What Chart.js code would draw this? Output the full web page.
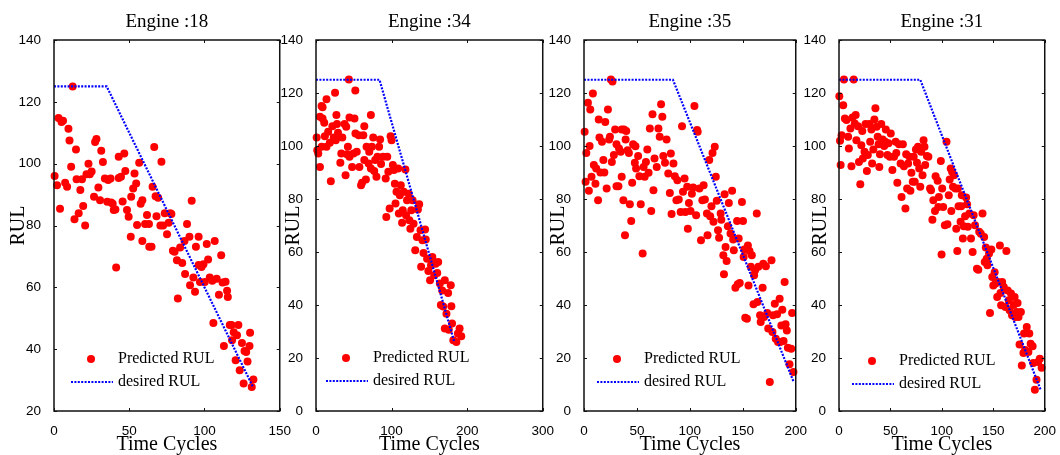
<!DOCTYPE html>
<html>
<head>
<meta charset="utf-8">
<script src="https://cdn.jsdelivr.net/npm/chart.js@4.4.1/dist/chart.umd.min.js"></script>
<style>
  body { margin: 0; width: 1060px; height: 455px; overflow: hidden; background: #fff; position: relative; }
  canvas { position: absolute; top: 0; }
</style>
</head>
<body>
<canvas id="c1" width="295" height="455" style="left:0px"></canvas>
<canvas id="c2" width="296" height="455" style="left:262px"></canvas>
<canvas id="c3" width="281" height="455" style="left:530px"></canvas>
<canvas id="c4" width="275" height="455" style="left:785px"></canvas>
<script>
// Engine 18
const e18Cycles = [0.4, 2, 3, 4, 5, 6, 7.4, 8.7, 9.6, 10.3, 11.4, 12.4, 13.6, 14.6, 15, 16.4, 17.5, 18.6, 19.4, 20.7,
  21.6, 22.9, 23.8, 25, 26.6, 27.3, 28.2, 29.5, 30.6, 31.4, 32.5, 33.8, 35.4, 36, 37.6, 38, 39, 39.7, 40.8, 41.3,
  43, 43, 44.5, 45.6, 46.7, 47.4, 48.5, 49.6, 51, 51.3, 52.6, 53.5, 54.6, 55.2, 56.6, 57.6, 58.7, 58.7, 60.5, 61.8,
  63.1, 63.3, 64.8, 65.5, 66.6, 67.5, 68.1, 69.2, 70.7, 71.4, 72.5, 73.6, 75.1, 76.2, 77.3, 78, 79, 80.1, 81.7, 82.3,
  83.8, 85.2, 86.7, 87.1, 88.4, 90, 90.4, 91.5, 92.6, 93.7, 94.3, 96.1, 96.1, 97, 98, 99.3, 100.2, 101.5, 102.4, 103.5,
  105.2, 105.9, 106.8, 108.1, 109.6, 111.1, 112, 112.9, 114, 115, 115.5, 116.8, 118, 118.3, 119.4, 120.7, 121.6, 122.5, 123.4, 124.9,
  126, 126.6, 127.7, 128.6, 129.9, 130.3, 131.4, 132.5];
const e18Pred = [96, 93, 114.8, 85.4, 113.5, 113.9, 93.8, 92.5, 111.3, 107.5, 99, 125, 82, 104.6, 95, 84, 91.5, 95, 86.3, 80,
  96.6, 100, 96.6, 97.5, 89.3, 107, 108, 92.3, 88.2, 104.2, 100.5, 95.2, 87.7, 94.7, 95.2, 87.4, 87, 85, 85.2, 66.4,
  102.2, 95.4, 95.8, 87.8, 103.3, 97.6, 85, 82.8, 76.4, 89.3, 92, 96.8, 93.6, 80.2, 100.3, 87, 88.2, 75, 80.5, 83.4,
  80.5, 73.1, 73.1, 92.5, 105.4, 89.5, 83, 89, 80, 100.6, 80, 84, 77.2, 80.9, 84, 83.7, 71.8, 71.5, 68.8, 56.4,
  72.9, 67.9, 75, 64.3, 80.5, 76.4, 60.7, 88, 63.2, 58.6, 73.1, 76.4, 67.2, 61.7, 66.6, 67.5, 61.7, 74, 69, 63.2,
  62.1, 48.5, 75, 62.8, 57.6, 70.4, 61.6, 41, 61.8, 58.9, 56.9, 47.8, 47.8, 42.9, 45.5, 36.4, 44.5, 47.8, 33.2, 42,
  28.9, 39.4, 39.1, 36, 41, 45.3, 27.8, 30.2];
const e18DesiredCycles = [0, 35, 132];
const e18DesiredRul = [125, 125, 28];

// Engine 34
const e34Cycles = [43.5, 52, 25.2, 13.9, 7.4, 8.7, 5.2, 8.7, 10.9, 27, 27.8, 37.8, 40, 44.3, 50.9, 63.9, 72.6, 0.9, 1.7, 3,
  5.2, 7.4, 11.7, 16.1, 13.9, 18.3, 21.7, 19.6, 23.5, 26.1, 29.1, 30.3, 33.5, 32.2, 34.8, 39.1, 40.9, 42.2, 44.3, 47.8,
  49.6, 52.2, 53.9, 56.5, 57.4, 59.6, 60.9, 62.6, 63.9, 66, 66.9, 69.6, 70.4, 72.6, 73.9, 75.7, 77, 78.3, 80, 81.3,
  83.5, 84.8, 86.1, 88.7, 92.2, 93, 94.3, 95.7, 97.4, 98.7, 100, 101.7, 103, 104.3, 105.2, 106.5, 108.7, 109.6, 110.9, 112.2,
  113.9, 114.8, 116.1, 118.3, 119.1, 120.4, 122.6, 123.5, 124.8, 126.1, 127.8, 129.1, 131.3, 133.5, 134.8, 136.5, 138.3, 139.1, 140.9, 142.2,
  144.3, 145.2, 147, 148.7, 150.9, 152.2, 153.9, 156.5, 158.3, 160.4, 161.7, 163.9, 165.2, 167, 168.3, 170.4, 170.4, 172.6, 174.8, 175.7,
  178.3, 179.1, 180, 181.7, 185.7, 187.8, 190, 192.2];
const e34Pred = [125.1, 120.9, 120.1, 117.6, 115.1, 114.6, 111, 110.4, 108.8, 111.7, 108.3, 108.3, 107.3, 110.8, 110.4, 107.5, 111.7, 103.2, 98.4, 97.2,
  92.1, 99.7, 103.7, 105.4, 99.7, 101.2, 107.5, 86.7, 103.2, 102.2, 105, 103.5, 97.2, 93.7, 103.2, 89, 96.9, 99.7, 95.9, 92.1,
  97.2, 104.7, 97.8, 104.1, 92.1, 85.2, 86.1, 104.1, 94.7, 87.4, 99.7, 93.4, 97.8, 91.5, 99.7, 103.2, 90.6, 94.7, 88.4, 95.9,
  99.7, 102.5, 93.2, 95.9, 87.7, 73.2, 95.9, 90.3, 76.4, 103.7, 102.2, 92.8, 90.9, 85.8, 78.3, 82.7, 91.5, 74.5, 81.4, 85.2,
  71, 75.8, 82.7, 91.1, 73.9, 79.5, 82, 72, 68.8, 75.8, 79.5, 70.7, 60.7, 65.7, 76, 78, 68.2, 54.4, 64.4, 59.6,
  68.5, 64.7, 57.5, 52.8, 49.3, 55, 58.1, 51.2, 55.6, 52.1, 56.2, 48.1, 40, 45.5, 39.4, 49.3, 31.1, 36.7, 44.5, 30.7,
  47.5, 39.5, 33, 26.7, 26, 29.2, 31.1, 28.2];
const e34DesiredCycles = [0, 84, 183];
const e34DesiredRul = [125, 125, 26];

// Engine 35
const e35Cycles = [0.6, 1.5, 2.2, 3.7, 4.6, 5.9, 5.3, 7.1, 8.4, 9.3, 10.8, 11.5, 13.3, 13.9, 14.6, 15.5, 17, 18.3, 19.2, 20.1,
  21.4, 22.6, 23.8, 24.5, 25.4, 26.9, 26.3, 28.2, 29.4, 30.7, 30.7, 32.5, 33.1, 34.7, 35.6, 35.6, 37.2, 37.8, 38.7, 39.3,
  39.9, 41.2, 42.4, 43.3, 44.6, 45.5, 46.4, 48, 48.6, 49.2, 51.1, 52.3, 53.6, 55.4, 56.3, 57.3, 58.5, 59.8, 61, 62.2,
  63.5, 64.7, 65.6, 66.6, 68.7, 70.3, 71.5, 72.8, 74, 74.9, 76.5, 78, 79.6, 81.1, 82, 82.7, 84.5, 85.8, 87.3, 88.2,
  89.5, 91.3, 92.6, 93.5, 95, 95.7, 97.5, 98.1, 99.1, 100.6, 101.9, 103.1, 104.3, 105.9, 106.8, 107.4, 109, 110.5, 111.8, 113,
  114.2, 116.1, 116.7, 118.3, 119.2, 120.4, 121.4, 122.3, 123.5, 124.5, 125.4, 126.6, 127.6, 129.1, 129.7, 131.6, 132.2, 132.8, 133.7, 134.7,
  135.9, 136.8, 138.4, 139.9, 140.9, 141.5, 143, 144.6, 145.2, 146.1, 147.1, 149.2, 150.2, 150.8, 151.4, 152.3, 153.9, 154.8, 155.4, 156.3,
  157.6, 158.5, 160.1, 160.7, 161.6, 163.2, 163.8, 164.7, 166.3, 166.9, 168.7, 169.3, 170, 171.8, 173.1, 174, 175.5, 177.1, 178, 178.6,
  180.2, 181.1, 182.4, 183.3, 184.8, 185.4, 186.4, 187.3, 188.5, 189.5, 190.4, 191.6, 192.6, 194.1, 195.7, 196.6, 197.8];
const e35Pred = [105.4, 86.5, 97.4, 116.3, 83.1, 113.8, 100, 88.4, 119.8, 92.8, 85.8, 91.5, 79.5, 110, 103.2, 90, 101.6, 94.7, 90, 109.1,
  84, 113.8, 102.5, 103.5, 125.1, 124.3, 94, 96.6, 106.2, 100.7, 84.8, 84.8, 99.1, 97.8, 106.2, 88.4, 79.5, 106.2, 66.3, 102.5,
  105.7, 98.4, 97.4, 78, 71.7, 86.1, 100.7, 93.7, 99.9, 91.5, 96.2, 88.6, 78, 59.4, 92.1, 88.4, 94, 98.7, 89.9, 106.6,
  75.5, 112, 83.3, 95.3, 92.1, 106.6, 103.5, 115.8, 111, 96.2, 93.7, 102.5, 89.6, 82.3, 97.2, 74.3, 93.4, 88.6, 79.5, 87.1,
  79.8, 75.1, 107.5, 82.7, 87.7, 75.1, 84.6, 68.8, 78.5, 75.5, 82, 84.3, 115.1, 73.9, 106, 105.4, 84, 64.4, 79.5, 85.2,
  79.8, 74.5, 66.3, 94.7, 73.5, 77.3, 97.4, 71.4, 99.7, 88.4, 79.3, 68.2, 65.4, 74.5, 72.2, 58.8, 51.6, 81.8, 61.9, 56.6,
  69.7, 78.5, 67, 83.1, 64.7, 60.7, 46.5, 71.7, 47.8, 65.1, 48.3, 78.9, 71.7, 58.1, 60.9, 35.2, 34.8, 62.5, 47.4, 60.4,
  54.4, 58.8, 40.3, 51.2, 53.1, 74.5, 41.1, 54.4, 36.1, 33.6, 46.5, 55.6, 35.5, 54.6, 37, 31.1, 10.9, 56.9, 29.8, 36.1,
  40.5, 27.3, 36.5, 26, 42.4, 26, 32.3, 38.2, 26.4, 48.7, 32.7, 30.4, 23.9, 17.6, 23.5, 37, 14.7];
const e35DesiredCycles = [0, 84, 198];
const e35DesiredRul = [125, 125, 11];

// Engine 31
const e31Cycles = [0.3, 1, 1.6, 2.5, 4.8, 4.1, 5.7, 7.3, 8.9, 9.6, 11.1, 12.1, 13.1, 14.3, 15.3, 16.2, 16.9, 18.5, 19.4, 20.7,
  21.7, 22.6, 23.2, 24.8, 25.8, 27.1, 28, 29.6, 30.3, 31.5, 32.2, 33.4, 34.4, 35.4, 36.6, 37.6, 38.5, 39.2, 39.8, 41.1,
  42.4, 43.9, 44.9, 45.5, 47.1, 48.1, 49.4, 50.3, 51.9, 53.5, 55.1, 55.7, 56.7, 58.3, 59.9, 60.8, 62.1, 63.1, 64.6, 65.3,
  66.2, 67.2, 68.5, 69.4, 70.4, 71.7, 72.6, 73.6, 74.8, 75.8, 76.8, 78, 79, 79.9, 81.2, 82.2, 83.1, 83.8, 85.4, 86.9,
  88.5, 89.5, 90.8, 91.7, 93.3, 93.9, 95.9, 96.5, 97.1, 99, 99.7, 100.3, 101.3, 102.9, 104.5, 105.4, 106.7, 107.6, 108.6, 109.2,
  109.9, 110.8, 111.8, 113.1, 114, 115, 115.6, 116.2, 118.2, 118.8, 119.4, 120.4, 121.3, 122.6, 123.6, 124.5, 125.2, 126.8, 128.3, 129.9,
  130.9, 132.2, 134.1, 135.4, 136.3, 137.9, 139.5, 141.1, 141.7, 142.7, 143.6, 144.3, 145.9, 146.8, 148.1, 149, 150, 151.3, 152.2, 153.8,
  154.5, 156.4, 157, 157.6, 158.6, 160.2, 161.8, 162.7, 164, 165, 165.9, 167.2, 168.2, 169.7, 170.7, 171.3, 172.9, 173.6, 174.5, 175.5,
  176.8, 177.7, 179.3, 179.9, 180.9, 182.5, 184.1, 185, 186.3, 188.2, 188.9, 190.4, 192, 193.6, 195.2, 197];
const e31Pred = [118.8, 102, 92.8, 104.1, 125.1, 115.4, 110.4, 109.8, 103.5, 99.1, 106.6, 92.4, 110.8, 125.1, 108.5, 111.7, 102.2, 107.5, 94, 85.6,
  100.3, 105.7, 95.3, 97.8, 108.3, 90.6, 96.6, 108.3, 101.6, 106.2, 93.4, 98.7, 110, 114.2, 107.3, 103.5, 100.7, 92.1, 96.9, 108.3,
  102.5, 100, 101.6, 106.2, 96.6, 101, 95.9, 104.7, 90.9, 95.9, 101.6, 97.4, 86.1, 100.7, 93.4, 80.8, 100.7, 92.4, 76.4, 96.9,
  84, 93.4, 95.9, 83.1, 89.9, 86.5, 95.9, 86.5, 98.7, 93.7, 99.7, 91.5, 84.6, 97.8, 89, 102.2, 99.7, 92.8, 96.2, 95.9,
  84, 83.3, 72.2, 79.5, 75.5, 88.6, 86.9, 77, 80.8, 94.3, 59.1, 84, 77, 70.1, 101.6, 70.5, 81.4, 87.4, 91.5, 75.5,
  90.3, 84.6, 89, 84, 68.8, 60.4, 84, 77.3, 71.4, 77.3, 81.4, 65.1, 69.7, 73.5, 80.6, 78, 69.5, 74.5, 65.1, 60,
  73.9, 70.1, 53.7, 53.3, 67.6, 66.9, 74.5, 65.7, 56.2, 61.7, 57.5, 55, 59.4, 37, 60.9, 50.6, 47.4, 52.4, 48.1, 43,
  48.7, 62.5, 44.5, 39.9, 48.7, 46.8, 39.2, 60.4, 45.5, 41.8, 38, 44.3, 36.1, 40, 43, 35.5, 37.4, 40.8, 35.5, 25.1,
  37.4, 17.2, 21.9, 29.2, 23, 31.7, 22.3, 29.2, 25.4, 24.4, 18.1, 8, 11.8, 18.5, 19.7, 16.3];
const e31DesiredCycles = [0, 79, 196];
const e31DesiredRul = [125, 125, 8];

const serif = '"Liberation Serif", "Times New Roman", serif';
const sans = '"Liberation Sans", Arial, sans-serif';
Chart.defaults.color = '#000';

function points(xs, ys) {
  return xs.map((x, i) => ({ x: x, y: ys[i] }));
}

// Matlab-like frame: closed box, inward ticks, legend inside the axes
const matlabBox = {
  id: 'matlabBox',
  afterDraw(chart, args, opts) {
    const { ctx, chartArea: a, scales: { x, y } } = chart;
    ctx.save();
    ctx.strokeStyle = '#111';
    ctx.lineWidth = 1.5;
    ctx.strokeRect(a.left, a.top, a.right - a.left, a.bottom - a.top);
    ctx.lineWidth = 1;
    ctx.beginPath();
    x.ticks.forEach(t => {
      const px = Math.round(x.getPixelForValue(t.value)) + 0.5;
      ctx.moveTo(px, a.bottom); ctx.lineTo(px, a.bottom - 3);
      ctx.moveTo(px, a.top); ctx.lineTo(px, a.top + 3);
    });
    y.ticks.forEach(t => {
      const py = Math.round(y.getPixelForValue(t.value)) + 0.5;
      ctx.moveTo(a.left, py); ctx.lineTo(a.left + 3, py);
      ctx.moveTo(a.right, py); ctx.lineTo(a.right - 3, py);
    });
    ctx.stroke();

    // legend
    const ds = chart.data.datasets;
    const lx = a.left + opts.lx;
    const y1 = a.bottom - opts.ly;
    const y2 = y1 + 23;
    ctx.fillStyle = '#ff0000';
    ctx.beginPath();
    ctx.arc(lx + 20, y1, 4, 0, Math.PI * 2);
    ctx.fill();
    ctx.strokeStyle = '#0000ff';
    ctx.lineWidth = 2.2;
    ctx.setLineDash([2, 1.4]);
    ctx.beginPath();
    ctx.moveTo(lx, y2); ctx.lineTo(lx + 42, y2);
    ctx.stroke();
    ctx.setLineDash([]);
    ctx.fillStyle = '#000';
    ctx.font = '16px ' + serif;
    ctx.textBaseline = 'middle';
    ctx.fillText(ds[1].label, lx + 47, y1);
    ctx.fillText(ds[0].label, lx + 47, y2);
    ctx.restore();
  }
};

const panels = [
  { canvas: 'c1', name: 'Engine :18', cycles: e18Cycles, pred: e18Pred, dCycles: e18DesiredCycles, dRul: e18DesiredRul,
    xMax: 150, xStep: 50, yMin: 20, titlePad: 9, lx: 17, ly: 52 },
  { canvas: 'c2', name: 'Engine :34', cycles: e34Cycles, pred: e34Pred, dCycles: e34DesiredCycles, dRul: e34DesiredRul,
    xMax: 300, xStep: 100, yMin: 0, titlePad: 22, lx: 10, ly: 53 },
  { canvas: 'c3', name: 'Engine :35', cycles: e35Cycles, pred: e35Pred, dCycles: e35DesiredCycles, dRul: e35DesiredRul,
    xMax: 200, xStep: 50, yMin: 0, titlePad: 19, lx: 13, ly: 52 },
  { canvas: 'c4', name: 'Engine :31', cycles: e31Cycles, pred: e31Pred, dCycles: e31DesiredCycles, dRul: e31DesiredRul,
    xMax: 200, xStep: 50, yMin: 0, titlePad: 26, lx: 13, ly: 50 }
];

panels.forEach(p => {
  new Chart(document.getElementById(p.canvas), {
    type: 'scatter',
    data: {
      datasets: [
        {
          type: 'line',
          label: 'desired RUL',
          data: points(p.dCycles, p.dRul),
          borderColor: '#0000ff',
          borderWidth: 2.2,
          borderDash: [2, 1.4],
          pointRadius: 0,
          fill: false,
          tension: 0,
          clip: false,
          order: 0
        },
        {
          label: 'Predicted RUL',
          data: points(p.cycles, p.pred),
          backgroundColor: '#ff0000',
          borderColor: '#ff0000',
          borderWidth: 0,
          pointRadius: 4,
          pointHoverRadius: 4,
          clip: false,
          order: 1
        }
      ]
    },
    options: {
      responsive: false,
      animation: false,
      events: [],
      layout: { padding: { left: 0, right: 12, top: 0, bottom: 0 } },
      plugins: {
        legend: { display: false },
        tooltip: { enabled: false },
        title: {
          display: true,
          text: p.name,
          fullSize: false,
          color: '#000',
          font: { family: serif, size: 19, weight: 'normal', lineHeight: 1.2 },
          padding: { top: 11, bottom: 6.2 }
        },
        matlabBox: { lx: p.lx, ly: p.ly }
      },
      scales: {
        x: {
          type: 'linear',
          min: 0,
          max: p.xMax,
          grid: { display: false },
          border: { display: false },
          ticks: { stepSize: p.xStep, padding: 4, font: { family: sans, size: 13.5 }, color: '#000' },
          title: {
            display: true,
            text: 'Time Cycles',
            font: { family: serif, size: 20, lineHeight: 1 },
            padding: { top: 0, bottom: 0 },
            color: '#000'
          },
          afterFit: s => { s.height = 44; }
        },
        y: {
          type: 'linear',
          min: p.yMin,
          max: 140,
          grid: { display: false },
          border: { display: false },
          ticks: { stepSize: 20, padding: 5, font: { family: sans, size: 13.5 }, color: '#000' },
          title: {
            display: true,
            text: 'RUL',
            font: { family: serif, size: 20, lineHeight: 1 },
            padding: { top: p.titlePad, bottom: 0 },
            color: '#000'
          },
          afterFit: s => { s.width = 54; }
        }
      }
    },
    plugins: [matlabBox]
  });
});
</script>
</body>
</html>
